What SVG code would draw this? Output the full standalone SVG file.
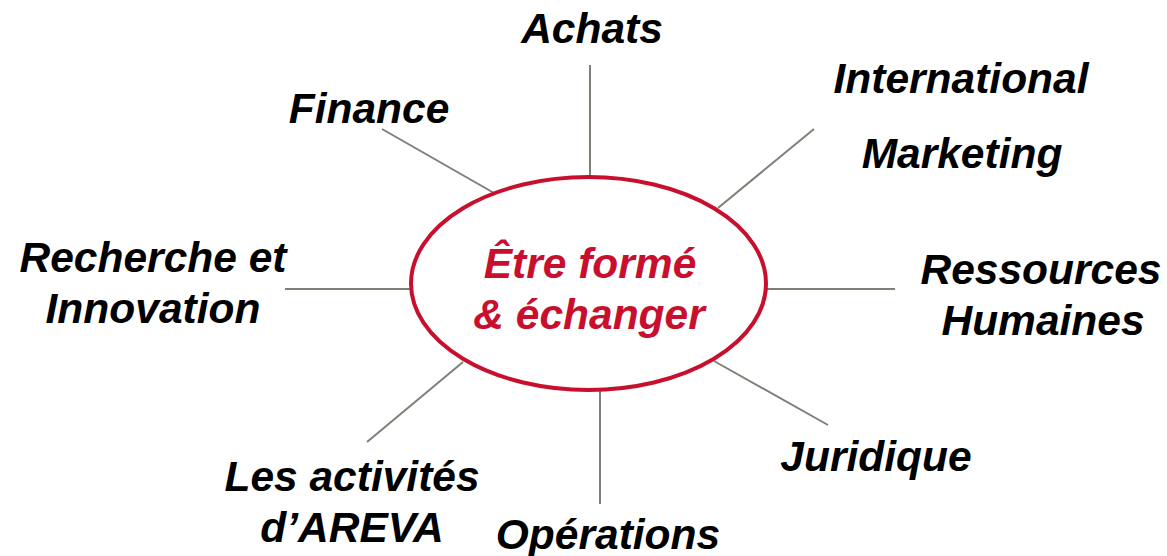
<svg xmlns="http://www.w3.org/2000/svg" width="1167" height="556" viewBox="0 0 1167 556">
<style>
.lbl{font-family:"Liberation Sans",Arial,sans-serif;font-size:42.5px;font-weight:bold;font-style:italic;fill:#000;text-anchor:middle}
.ctr{font-family:"Liberation Sans",Arial,sans-serif;font-size:42.5px;font-weight:bold;font-style:italic;fill:#C8102E;text-anchor:middle}
.conn line{stroke:#7f7f78;stroke-width:2}
</style>
<rect width="1167" height="556" fill="#fff"/>
<g id="connectors" class="conn">
<line x1="590" y1="65" x2="590" y2="178"/>
<line x1="382" y1="129" x2="494" y2="193"/>
<line x1="814" y1="129" x2="718" y2="208"/>
<line x1="285" y1="289" x2="411" y2="289"/>
<line x1="766" y1="289" x2="895" y2="289"/>
<line x1="714" y1="361" x2="828" y2="425"/>
<line x1="463" y1="362" x2="367" y2="442"/>
<line x1="600" y1="390" x2="600" y2="504"/>
</g>
<g id="center">
<ellipse cx="588.5" cy="283.5" rx="177.5" ry="106.5" fill="#fff" stroke="#C8102E" stroke-width="4"/>
<text class="ctr" x="590" y="278">Être formé</text>
<text class="ctr" x="589" y="329">&amp; échanger</text>
</g>
<g id="achats"><text class="lbl" x="592" y="43">Achats</text></g>
<g id="international-marketing"><text class="lbl" x="961" y="93">International</text><text class="lbl" x="962" y="168">Marketing</text></g>
<g id="finance"><text class="lbl" x="369" y="123">Finance</text></g>
<g id="recherche"><text class="lbl" x="153" y="272">Recherche et</text><text class="lbl" x="153" y="323">Innovation</text></g>
<g id="rh"><text class="lbl" x="1041" y="284">Ressources</text><text class="lbl" x="1043" y="335">Humaines</text></g>
<g id="juridique"><text class="lbl" x="876" y="471">Juridique</text></g>
<g id="activites"><text class="lbl" x="352" y="491">Les activités</text><text class="lbl" x="352" y="542">d’AREVA</text></g>
<g id="operations"><text class="lbl" x="608" y="549">Opérations</text></g>
</svg>
